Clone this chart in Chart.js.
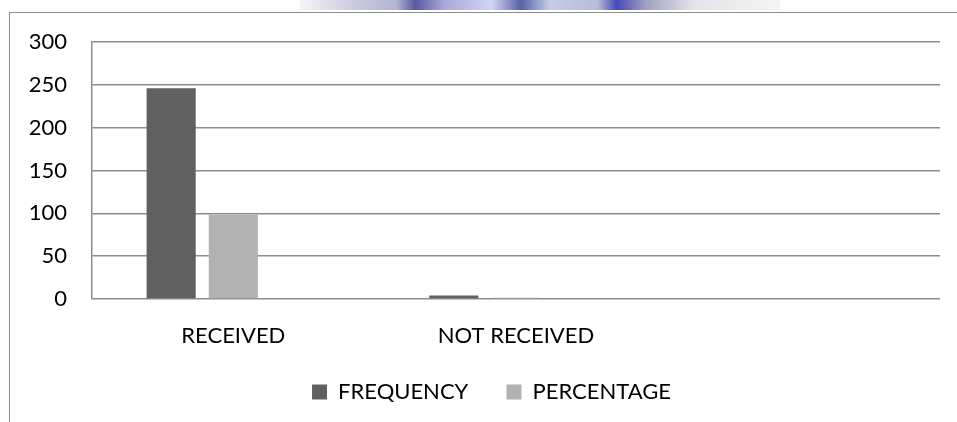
<!DOCTYPE html>
<html>
<head>
<meta charset="utf-8">
<script src="https://cdn.jsdelivr.net/npm/chart.js@4"></script>
<style>
  html, body { margin: 0; padding: 0; background: #fff; }
  #wrap { position: relative; width: 957px; height: 422px; overflow: hidden; }
  #frame { position: absolute; left: 9px; top: 12px; width: 960px; height: 420px;
           border-left: 1px solid #8c8c8c; border-top: 1px solid #8c8c8c; }
  #strip { position: absolute; left: 300px; top: 0; width: 480px; height: 10px;
           background: linear-gradient(90deg, #f4f4f8 0%, #c8c8dc 12%, #b4b4d4 20%, #5a5aa0 24%, #a8a8d8 30%,
           #d0d4f4 40%, #5860a8 46%, #c4cce8 52%, #b8bcd8 62%, #4848b8 66%, #a0a0c0 72%, #e4e4ec 82%, #f4f4f0 100%); }
  canvas { position: absolute; left: 0; top: 0; }
</style>
</head>
<body>
<div id="wrap">
  <div id="strip"></div>
  <div id="frame"></div>
  <canvas id="chart" width="957" height="422"></canvas>
</div>
<script>
const categories = ['RECEIVED', 'NOT RECEIVED', ''];
const frequency = [246, 4, null];
const percentage = [98.4, 1.6, null];
const yTicks = [0, 50, 100, 150, 200, 250, 300];

const font = { family: 'Lato, "Open Sans", sans-serif', size: 22 };

// legend in the original is centred under the plot, not the whole canvas
const legendShift = {
    id: 'legendShift',
    afterLayout(chart) {
        if (chart.legend) chart.legend.left += 43;
    }
};

new Chart(document.getElementById('chart'), {
    type: 'bar',
    data: {
        labels: categories,
        datasets: [
            { label: 'FREQUENCY', data: frequency, backgroundColor: '#606060' },
            { label: 'PERCENTAGE', data: percentage, backgroundColor: '#b2b2b2' },
            { label: '', data: [null, null, null], backgroundColor: '#ffffff' }
        ]
    },
    plugins: [legendShift],
    options: {
        responsive: false,
        animation: false,
        datasets: { bar: { barPercentage: 0.79, categoryPercentage: 0.66 } },
        layout: { padding: { top: 42, right: 17, bottom: 9, left: 0 } },
        plugins: {
            tooltip: { enabled: false },
            legend: {
                position: 'bottom',
                labels: {
                    color: '#000',
                    font: font,
                    boxWidth: 15,
                    boxHeight: 15,
                    padding: 10,
                    filter: item => item.text !== '',
                    generateLabels: chart => {
                        const items = Chart.defaults.plugins.legend.labels.generateLabels(chart);
                        items[0].text = items[0].text + '     ';
                        return items;
                    }
                }
            }
        },
        scales: {
            x: {
                grid: { display: false, drawTicks: false },
                border: { display: false },
                ticks: { color: '#000', font: font, padding: 24, maxRotation: 0 },
                afterFit: s => { s.height = 72; }
            },
            y: {
                min: 0,
                max: 300,
                afterBuildTicks: s => { s.ticks = yTicks.map(v => ({ value: v })); },
                grid: { color: '#8c8c8c', lineWidth: 1.5, drawTicks: false },
                border: { display: true, color: '#8c8c8c', width: 1.5 },
                ticks: { color: '#000', font: font, padding: 25 },
                afterFit: s => { s.width = 92; }
            }
        }
    }
});
</script>
</body>
</html>
